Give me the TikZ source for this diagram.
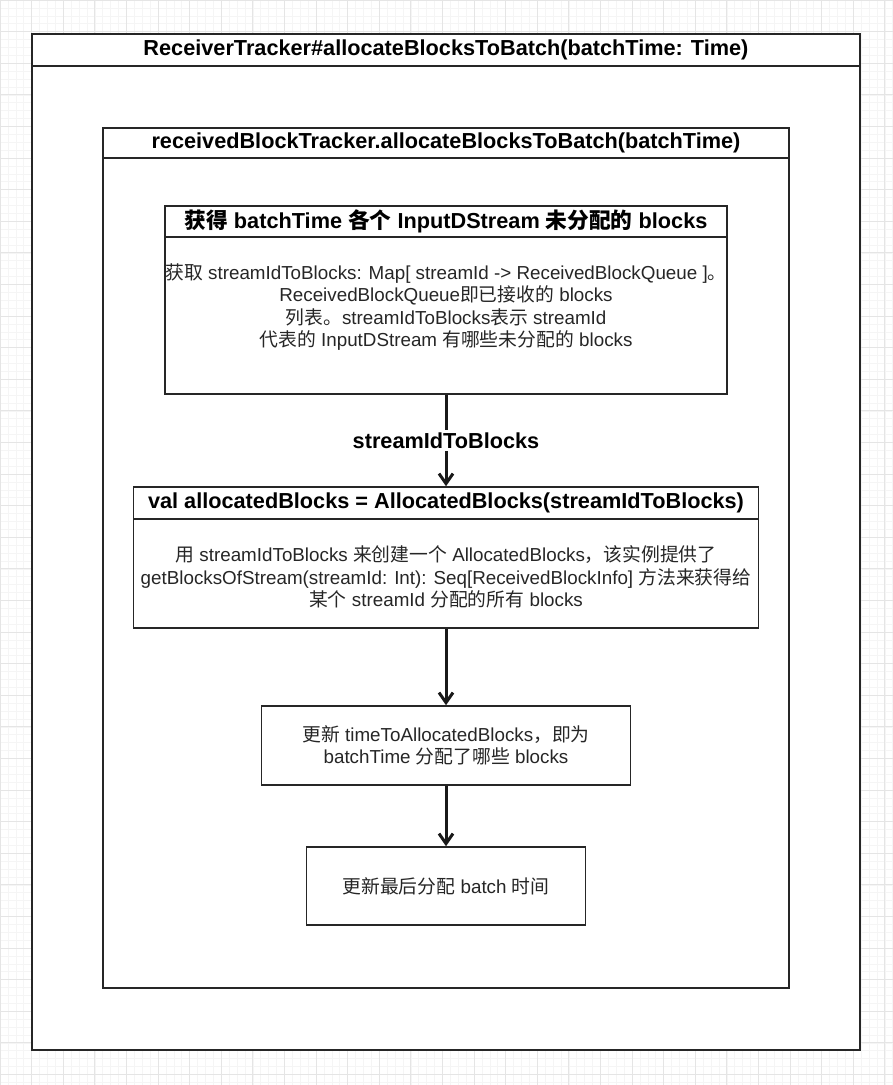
\documentclass[tikz,border=0pt]{standalone}
\usepackage{fontspec}
\setmainfont{Liberation Sans}
\newfontfamily\zhfont{Noto Sans CJK SC}
\newcommand{\zh}[1]{{\zhfont #1}}
\usetikzlibrary{arrows.meta, positioning}

\begin{document}
\begin{tikzpicture}[x=1pt, y=-1pt, >={Straight Barb[length=10pt,width=14pt]},
  lane/.style={draw=black!85, line width=1.6pt, fill=white, inner sep=0pt},
  head/.style={draw=black!85, line width=1.6pt, anchor=north, inner sep=0pt,
    font=\bfseries\fontsize{21.7}{26}\selectfont},
  body/.style={align=center, text=black!85, font=\fontsize{18.8}{22.5}\selectfont},
  flow/.style={->, line width=3pt, draw=black!90}]
\useasboundingbox (0,0) rectangle (893,1085);
% background grid
  \foreach \gx in {0,7.9,...,893} \draw[black!4, line width=0.5pt] (\gx,0) -- (\gx,1085);
  \foreach \gy in {0,7.9,...,1085} \draw[black!4, line width=0.5pt] (0,\gy) -- (893,\gy);
  \foreach \gx in {0,31.6,...,893} \draw[black!10, line width=0.8pt] (\gx,0) -- (\gx,1085);
  \foreach \gy in {0,31.6,...,1085} \draw[black!10, line width=0.8pt] (0,\gy) -- (893,\gy);

% define the containers
  \node[lane, minimum width=828pt, minimum height=1016pt] (tracker) at (446,542) {};
  \node[head, minimum width=828pt, minimum height=32pt] (trackerhead) at (tracker.north)
    {ReceiverTracker\#allocateBlocksToBatch(batchTime: Time)};
  \node[lane, minimum width=686pt, minimum height=860pt] (blocktracker) at (446,558) {};
  \node[head, minimum width=686pt, minimum height=30pt] (blocktrackerhead) at (blocktracker.north)
    {receivedBlockTracker.allocateBlocksToBatch(batchTime)};

% define the steps
  \node[lane, minimum width=562pt, minimum height=188pt] (unalloc) at (446,300) {};
  \node[head, minimum width=562pt, minimum height=31pt] (unallochead) at (unalloc.north)
    {\zh{获得} batchTime \zh{各个} InputDStream \zh{未分配的} blocks};
  \node[body] (unallocbody) at (446,307)
    {\zh{获取} streamIdToBlocks: Map[ streamId -> ReceivedBlockQueue ]\zh{。}\\
     ReceivedBlockQueue\zh{即已接收的} blocks\\
     \zh{列表。}streamIdToBlocks\zh{表示} streamId\\
     \zh{代表的} InputDStream \zh{有哪些未分配的} blocks};

  \node[lane, minimum width=625pt, minimum height=141pt] (allocated) at (446,557.5) {};
  \node[head, minimum width=625pt, minimum height=32pt] (allocatedhead) at (allocated.north)
    {val allocatedBlocks = AllocatedBlocks(streamIdToBlocks)};
  \node[body] (allocatedbody) at (446,577)
    {\zh{用} streamIdToBlocks \zh{来创建一个} AllocatedBlocks\zh{，该实例提供了}\\
     getBlocksOfStream(streamId: Int): Seq[ReceivedBlockInfo] \zh{方法来获得给}\\
     \zh{某个} streamId \zh{分配的所有} blocks};

  \node[lane, body, minimum width=369pt, minimum height=79pt] (timemap) at (446,745.5)
    {\zh{更新} timeToAllocatedBlocks\zh{，即为}\\ batchTime \zh{分配了哪些} blocks};
  \node[lane, body, minimum width=279pt, minimum height=78pt] (lastbatch) at (446,886)
    {\zh{更新最后分配} batch \zh{时间}};

% define the links
  \path[flow] (unalloc) edge node[fill=white, font=\bfseries\fontsize{21.7}{26}\selectfont,
                inner sep=3pt] {streamIdToBlocks} (allocated)
              (allocated) edge (timemap)
              (timemap) edge (lastbatch);
\end{tikzpicture}
\end{document}
